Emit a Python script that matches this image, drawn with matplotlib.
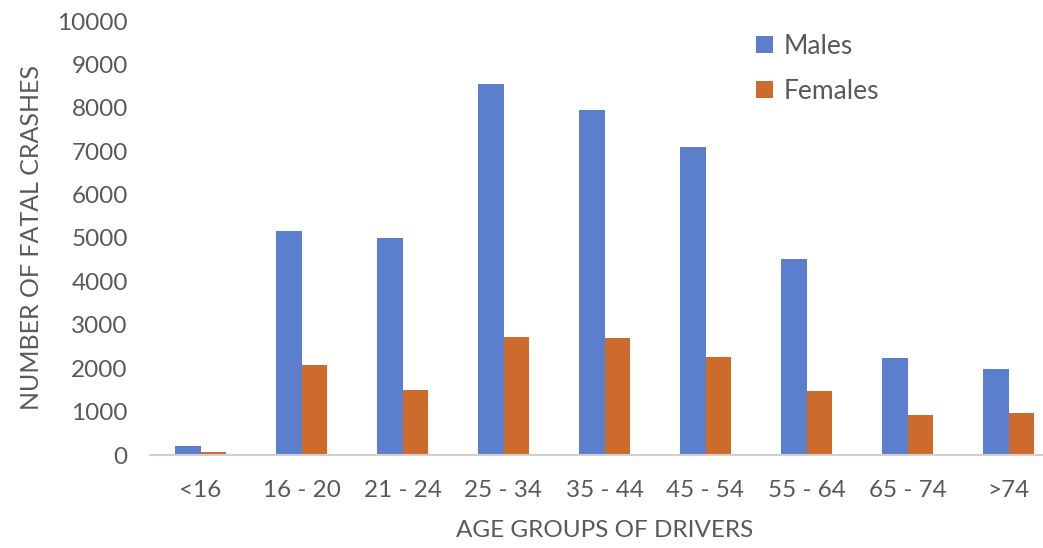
import matplotlib
matplotlib.use("Agg")
import matplotlib.pyplot as plt
import numpy as np

age_groups = ["<16", "16 - 20", "21 - 24", "25 - 34", "35 - 44",
              "45 - 54", "55 - 64", "65 - 74", ">74"]
males = [200, 5150, 5000, 8550, 7950, 7100, 4520, 2230, 1990]
females = [70, 2080, 1500, 2720, 2700, 2250, 1470, 920, 970]
y_ticks = list(range(0, 10001, 1000))

blue = "#5b7fcc"
orange = "#cc6b2c"
text_gray = "#595959"

plt.rcParams["font.family"] = ["Lato", "DejaVu Sans"]

fig = plt.figure(figsize=(10.43, 5.48), dpi=100)
ax = fig.add_axes([150 / 1043, 93 / 548, 909 / 1043, 434 / 548])

x = np.arange(len(age_groups))
w = 0.25
ax.bar(x - w / 2, males, width=w, color=blue, label="Males")
ax.bar(x + w / 2, females, width=w, color=orange, label="Females")

ax.set_xlim(-0.5, len(age_groups) - 0.5)
ax.set_ylim(0, 10000)
ax.set_yticks(y_ticks)
ax.set_yticklabels([str(v) for v in y_ticks])
ax.set_xticks(x)
ax.set_xticklabels(age_groups)

for side in ["top", "right", "left"]:
    ax.spines[side].set_visible(False)
ax.spines["bottom"].set_color("#d0d0d0")
ax.spines["bottom"].set_linewidth(1.5)
ax.tick_params(axis="both", length=0, colors=text_gray, labelsize=17.5)
ax.tick_params(axis="y", pad=16)
ax.tick_params(axis="x", pad=18)

ax.set_xlabel("AGE GROUPS OF DRIVERS", color=text_gray, fontsize=17.5, labelpad=14)
ax.set_ylabel("NUMBER OF FATAL CRASHES", color=text_gray, fontsize=18, labelpad=10)

leg = ax.legend(loc="upper left", bbox_to_anchor=(0.64, 1.025), frameon=False,
                fontsize=19, handlelength=0.65, handleheight=0.65,
                handletextpad=0.4, labelspacing=0.75)
for t in leg.get_texts():
    t.set_color(text_gray)

fig.savefig("out.png", dpi=100)
